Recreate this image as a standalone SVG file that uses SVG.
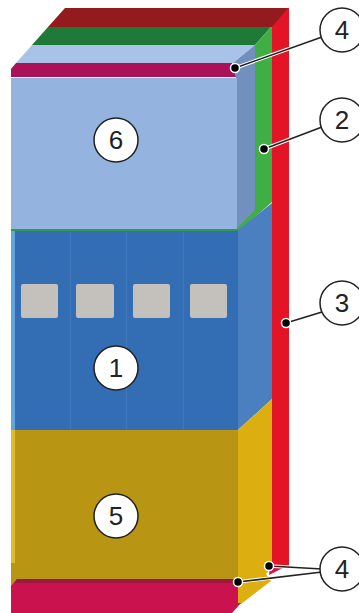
<svg xmlns="http://www.w3.org/2000/svg" width="359" height="613" viewBox="0 0 359 613">
<style>
.halo{fill:none;stroke:#fff;stroke-width:3.5}
.line{fill:none;stroke:#222;stroke-width:1.6}
.dot{fill:#000;stroke:#fff;stroke-width:1.5}
.bub{fill:#fff;stroke:#222;stroke-width:1.5}
.num{font-family:"Liberation Sans",Arial,sans-serif;font-size:26px;fill:#222;text-anchor:middle}
.sq{fill:#c4c0bc}
.sep{stroke:#3f78ba;stroke-width:1.2}
</style>
<g id="cabinet">
<rect x="272" y="8" width="17" height="559" fill="#e31426"/>
<polygon points="65,8 288,8 272,27 48,27" fill="#931a1d"/>
<polygon points="48,27 271,27 255,45 32,45" fill="#1f7a37"/>
<polygon points="255,45 271,27 272,27 272,202 240,230 237,230 237,78" fill="#3fae45"/>
<polygon points="32,45 255,45 233,63 16,63" fill="#a9c3e8"/>
<polygon points="236,78 233,63 255,45 255,210 237,228" fill="#7290bd"/>
<rect x="11" y="78" width="226" height="151" fill="#95b3df"/>
<polygon points="11,69 16,63 232,63 236,77 11,77" fill="#ab1158"/>
<rect x="11" y="229" width="227" height="2.500" fill="#2f9a52"/>
<polygon points="238,230 272,203 272,399 238,430" fill="#4a7fc0"/>
<rect x="11" y="231" width="227" height="199" fill="#336db3"/>
<rect x="11" y="231" width="4" height="199" fill="#62a5de"/>
<line class="sep" x1="70.500" y1="232" x2="70.500" y2="430"/>
<line class="sep" x1="126.500" y1="232" x2="126.500" y2="430"/>
<line class="sep" x1="183.500" y1="232" x2="183.500" y2="430"/>
<rect class="sq" x="21" y="284" width="37" height="34" rx="2"/>
<rect class="sq" x="76" y="284" width="38" height="34" rx="2"/>
<rect class="sq" x="133" y="284" width="37" height="34" rx="2"/>
<rect class="sq" x="190" y="284" width="37" height="34" rx="2"/>
<polygon points="270,567 285,567 269,575" fill="#cf1a45"/>
<polygon points="238,430 272,399 272,567 266,574 271,581 241,604 238,604" fill="#dcae10"/>
<rect x="11" y="430" width="227" height="157" fill="#b89512"/>
<rect x="11" y="430" width="4" height="133" fill="#dfbb2b"/>
<polygon points="11,586 17,579 238,579 238,603 241,603 232,613 11,613" fill="#c9124e"/>
<polygon points="17,579 238,579 238,583 14,583" fill="#9c1741"/>
</g>
<g id="connectors">
<path class="halo" d="M235,68L322,37M264,149L322,127M286,323L322,312M269,566L322,569M238,582L322,572"/>
<path class="line" d="M235,68L322,37M264,149L322,127M286,323L322,312M269,566L322,569M238,582L322,572"/>
<circle class="dot" cx="235" cy="68" r="4.500"/>
<circle class="dot" cx="264" cy="149" r="4.500"/>
<circle class="dot" cx="286" cy="323" r="4.500"/>
<circle class="dot" cx="269" cy="566" r="4.500"/>
<circle class="dot" cx="238" cy="582" r="4.500"/>
</g>
<g id="c4a"><circle class="bub" cx="342" cy="30" r="22"/><text class="num" x="342" y="39">4</text></g>
<g id="c2"><circle class="bub" cx="342" cy="120" r="22"/><text class="num" x="342" y="129">2</text></g>
<g id="c3"><circle class="bub" cx="342" cy="303" r="22"/><text class="num" x="342" y="312">3</text></g>
<g id="c4b"><circle class="bub" cx="342" cy="569" r="22"/><text class="num" x="342" y="578">4</text></g>
<g id="c6"><circle class="bub" cx="116" cy="140" r="22"/><text class="num" x="116" y="149">6</text></g>
<g id="c1"><circle class="bub" cx="116" cy="368" r="22"/><text class="num" x="116" y="377">1</text></g>
<g id="c5"><circle class="bub" cx="116" cy="516" r="22"/><text class="num" x="116" y="525">5</text></g>
</svg>
